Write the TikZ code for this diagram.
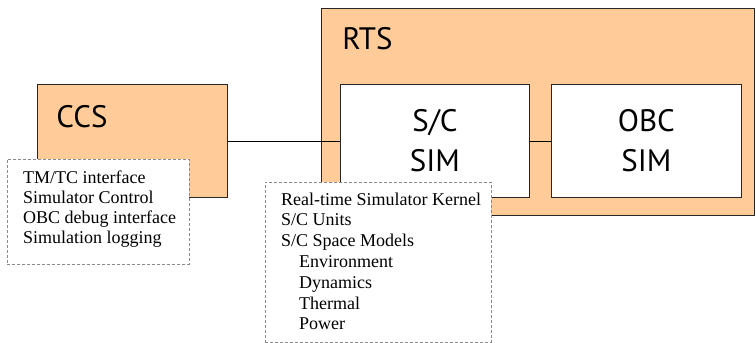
\documentclass[tikz,border=0pt]{standalone}
\usepackage{fontspec}
\setmainfont{Liberation Serif}
\newfontfamily\labelfont{PT Sans}
\definecolor{peach}{HTML}{FFCC99}
\definecolor{dashgray}{HTML}{8A8A8A}
\tikzset{
  unitbox/.style={draw=black!85, line width=0.8pt, rectangle, inner sep=0pt},
  orangebox/.style={unitbox, fill=peach},
  whitebox/.style={unitbox, fill=white, align=center, font=\labelfont\fontsize{31}{40}\selectfont},
  biglabel/.style={font=\labelfont\fontsize{31}{40}\selectfont, inner sep=0pt, anchor=base},
  listbox/.style={draw=dashgray, fill=white, line width=0.7pt, dash pattern=on 3pt off 2pt, rectangle, inner sep=0pt, anchor=north west},
  listtext/.style={inner sep=0pt, anchor=north west, align=left, font=\fontsize{18}{20}\selectfont},
  link/.style={draw=black, line width=0.7pt}
}
\begin{document}
\begin{tikzpicture}[x=1pt,y=-1pt]
\useasboundingbox (0,0) rectangle (756,343);
% RTS container
\node[orangebox, minimum width=433pt, minimum height=207pt, anchor=north west] (rts) at (321,8) {};
\node[biglabel] (rtslabel) at (367.5,49) {RTS};
% CCS
\node[orangebox, minimum width=190pt, minimum height=113pt, anchor=north west] (ccs) at (37,84) {};
\node[biglabel] (ccslabel) at (82,127) {CCS};
% SIM boxes
\node[whitebox, minimum width=189pt, minimum height=113pt, anchor=north west] (scsim) at (340,84) {S/C\\SIM};
\node[whitebox, minimum width=190pt, minimum height=113pt, anchor=north west] (obcsim) at (551,84) {OBC\\SIM};
% connectors
\draw[link] (ccs.east) -- (scsim.west);
\draw[link] (scsim.east) -- (obcsim.west);
% lists
\node[listbox, minimum width=182pt, minimum height=105pt] (ccsbox) at (7,159) {};
\node[listtext] (ccslist) at (23,170.5) {TM/TC interface\\Simulator Control\\OBC debug interface\\Simulation logging};
\node[listbox, minimum width=226pt, minimum height=160pt] (rtsbox) at (265,182) {};
\node[listtext, font=\fontsize{18}{20.8}\selectfont] (rtslist) at (281,192.5) {Real-time Simulator Kernel\\S/C Units\\S/C Space Models\\\hspace*{18pt}Environment\\\hspace*{18pt}Dynamics\\\hspace*{18pt}Thermal\\\hspace*{18pt}Power};
\end{tikzpicture}
\end{document}
